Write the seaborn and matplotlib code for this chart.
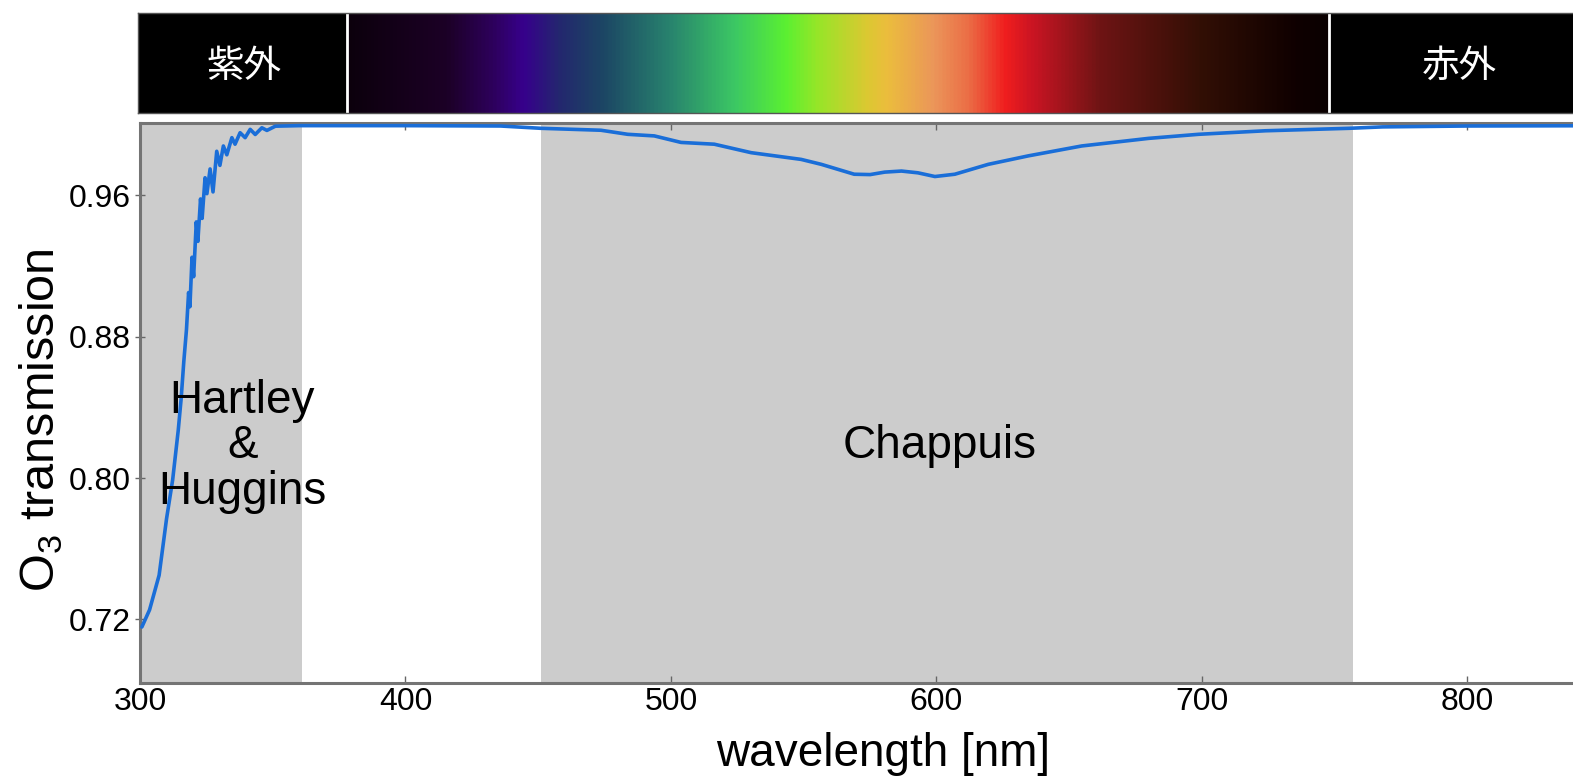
import numpy as np
import pandas as pd
import matplotlib
matplotlib.use("Agg")
import matplotlib.pyplot as plt
from matplotlib.colors import LinearSegmentedColormap
import seaborn as sns

# -----------------------------
# Data
# -----------------------------
wavelength = [300.7, 303.6, 307.2, 310.0, 312.3, 314.4, 315.5, 316.5, 317.5, 318.3,
              318.8, 319.6, 320.2, 321.2, 321.8, 322.8, 323.4, 324.5, 325.2, 326.4,
              327.5, 328.9, 330.1, 331.4, 332.7, 334.6, 335.8, 337.7, 339.6, 341.5,
              343.4, 345.9, 347.8, 351.0, 360.0, 400.0, 435.8, 451.0, 473.6, 483.7,
              493.7, 503.8, 516.3, 530.2, 549.0, 556.6, 569.0, 575.0, 580.5, 586.8,
              593.0, 599.4, 606.9, 619.5, 634.6, 654.7, 679.9, 698.7, 723.9, 755.4,
              768.0, 800.0, 860.0]
transmission = [0.7157, 0.7254, 0.745, 0.777, 0.799, 0.827, 0.845, 0.866, 0.884, 0.905,
                0.897, 0.925, 0.914, 0.945, 0.934, 0.958, 0.947, 0.970, 0.961, 0.975,
                0.962, 0.985, 0.977, 0.988, 0.983, 0.9927, 0.989, 0.9955, 0.9927, 0.9974,
                0.9945, 0.9983, 0.9968, 0.9992, 0.9995, 0.9995, 0.9993, 0.998, 0.9969, 0.9946,
                0.9937, 0.990, 0.989, 0.9842, 0.9804, 0.9776, 0.972, 0.9718, 0.9732, 0.9738,
                0.9728, 0.9707, 0.972, 0.9776, 0.9824, 0.988, 0.9923, 0.9946, 0.9966, 0.998,
                0.9988, 0.9993, 0.9995]

# absorption bands (nm)
bands = ["Hartley\n&\nHuggins", "Chappuis"]
band_start = [300, 451]
band_end = [361, 757]
band_label_x = [338.5, 601]
band_label_y = [0.818, 0.818]

# visible spectrum colour stops
spec_wl = [378, 415, 432, 444, 458, 474, 499, 524, 543, 555, 574, 581, 599, 612, 626, 637, 662, 700, 736, 748]
spec_rgb = [(12, 0, 12), (28, 0, 38), (45, 0, 90), (55, 0, 140), (35, 40, 110), (28, 70, 100),
            (40, 130, 110), (60, 200, 100), (90, 240, 50), (150, 230, 40), (220, 200, 50),
            (235, 190, 60), (235, 150, 90), (235, 110, 70), (240, 30, 30), (200, 20, 35),
            (110, 20, 20), (50, 15, 5), (15, 0, 0), (10, 0, 0)]
uv_label, ir_label = "紫外", "赤外"

df = pd.DataFrame({"wavelength": wavelength, "transmission": transmission})

# -----------------------------
# Style
# -----------------------------
sns.set_style("white")
plt.rcParams['font.family'] = ['Liberation Sans', 'Noto Sans CJK JP', 'DejaVu Sans']
plt.rcParams['mathtext.fontset'] = 'custom'
plt.rcParams['mathtext.rm'] = 'Liberation Sans'
plt.rcParams['text.color'] = 'black'
plt.rcParams['axes.labelcolor'] = 'black'

fig = plt.figure(figsize=(15.73, 7.78), dpi=100)
xmin, xmax = 300, 860
scale = 2.655  # px per nm
ax_w = (xmax - xmin) * scale
ax = fig.add_axes([140 / 1573, 95 / 778, ax_w / 1573, 560 / 778])
bar = fig.add_axes([138 / 1573, 665 / 778, ax_w / 1573 + 2 / 1573, 100 / 778])

# -----------------------------
# Main plot
# -----------------------------
for s, e in zip(band_start, band_end):
    ax.axvspan(s, e, color="#cccccc", lw=0, zorder=0)

sns.lineplot(data=df, x="wavelength", y="transmission", ax=ax,
             color="#1a6ed8", lw=2.6, zorder=3)

for name, bx, by in zip(bands, band_label_x, band_label_y):
    ax.text(bx, by, name, ha="center", va="center", fontsize=33,
            linespacing=1.05, zorder=4)

ax.set_xlim(xmin, xmax)
ax.set_ylim(0.684, 1.001)
ax.set_xticks([300, 400, 500, 600, 700, 800])
ax.set_yticks([0.72, 0.80, 0.88, 0.96])
ax.set_yticklabels(["0.72", "0.80", "0.88", "0.96"])
ax.tick_params(axis="x", direction="in", top=True, bottom=True, length=5,
               width=1, color="#666666", labelcolor="black", labelsize=23, pad=3)
ax.tick_params(axis="y", direction="inout", left=True, length=7,
               width=1, color="#666666", labelcolor="black", labelsize=23, pad=3)
for sp in ax.spines.values():
    sp.set_color("#747474")
    sp.set_linewidth(2.2)
ax.set_xlabel("wavelength [nm]", fontsize=33, labelpad=11)
ax.set_ylabel("O$_3$ transmission", fontsize=35)
ax.yaxis.set_label_coords(-75 / ax_w, 0.47)

# -----------------------------
# Spectrum bar
# -----------------------------
cmap = LinearSegmentedColormap.from_list(
    "spec", [((w - spec_wl[0]) / (spec_wl[-1] - spec_wl[0]), tuple(c / 255 for c in rgb))
             for w, rgb in zip(spec_wl, spec_rgb)])
bar.set_facecolor("black")
bar.imshow(np.linspace(0, 1, 512)[None, :], cmap=cmap, aspect="auto",
           extent=(spec_wl[0], spec_wl[-1], 0, 1))
bar.axvline(spec_wl[0], color="white", lw=2)
bar.axvline(spec_wl[-1], color="white", lw=2)
bar.text(339, 0.47, uv_label, color="white", fontsize=27,
         ha="center", va="center", family=["Noto Sans CJK JP", "DejaVu Sans"])
bar.text(797, 0.47, ir_label, color="white", fontsize=27,
         ha="center", va="center", family=["Noto Sans CJK JP", "DejaVu Sans"])
bar.set_xlim(xmin - 2 / scale, xmax)
bar.set_ylim(0, 1)
bar.set_xticks([])
bar.set_yticks([])
for sp in bar.spines.values():
    sp.set_color("#555555")
    sp.set_linewidth(1)

fig.savefig("out.png", dpi=100)
